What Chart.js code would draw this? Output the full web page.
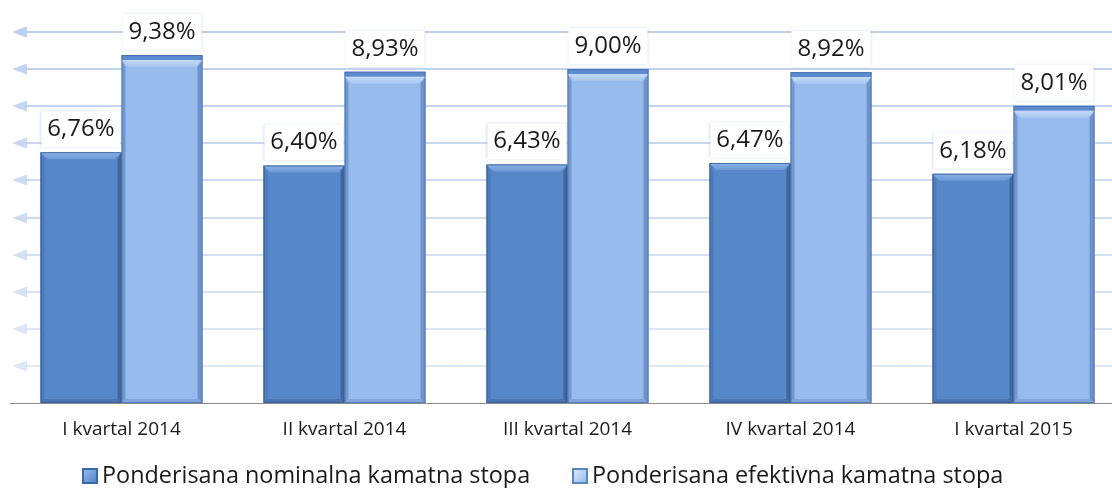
<!DOCTYPE html>
<html><head><meta charset="utf-8">
<script src="https://cdn.jsdelivr.net/npm/chart.js@4.4.1/dist/chart.umd.min.js"></script>
<style>html,body{margin:0;padding:0;background:#fff;overflow:hidden}#wrap{position:relative;width:1125px;height:488px}</style>
</head><body><div id="wrap"><canvas id="c"></canvas></div>
<script>
const categories = ['I kvartal 2014','II kvartal 2014','III kvartal 2014','IV kvartal 2014','I kvartal 2015'];
const nominalna = [6.76, 6.40, 6.43, 6.47, 6.18];
const efektivna = [9.38, 8.93, 9.00, 8.92, 8.01];
const seriesNames = ['Ponderisana nominalna kamatna stopa', 'Ponderisana efektivna kamatna stopa'];
const yMin = 0, yMax = 10, yStep = 1;

const FONT = "'Open Sans', 'Noto Sans', sans-serif";
const fmt = v => v.toFixed(2).replace('.', ',') + '%';

const gridArrows = {
  id: 'gridArrows',
  beforeDatasetsDraw(chart) {
    const {ctx, scales: {y}} = chart;
    ctx.save();
    y.ticks.forEach((t) => {
      if (t.value === yMin) return;
      const py = Math.round(y.getPixelForValue(t.value));
      const k = (t.value - yMin) / (yMax - yMin);
      const a = 0.3 + 0.4 * k;
      const col = `rgba(160,188,232,${a})`;
      ctx.strokeStyle = col; ctx.fillStyle = col;
      ctx.lineWidth = 2;
      ctx.beginPath(); ctx.moveTo(26, py); ctx.lineTo(chart.width, py); ctx.stroke();
      ctx.beginPath(); ctx.moveTo(12, py); ctx.lineTo(27, py - 5.5); ctx.lineTo(27, py + 5.5); ctx.closePath(); ctx.fill();
    });
    ctx.restore();
  }
};

function poly(ctx, pts, fill) {
  ctx.beginPath(); ctx.moveTo(pts[0][0], pts[0][1]);
  for (let i = 1; i < pts.length; i++) ctx.lineTo(pts[i][0], pts[i][1]);
  ctx.closePath(); ctx.fillStyle = fill; ctx.fill();
}

const bevel = {
  id: 'bevel',
  afterDatasetsDraw(chart) {
    const {ctx} = chart;
    ctx.save();
    chart.data.datasets.forEach((ds, di) => {
      const meta = chart.getDatasetMeta(di);
      meta.data.forEach((bar) => {
        const p = bar.getProps(['x', 'y', 'base', 'width'], true);
        const L = p.x - p.width / 2, R = p.x + p.width / 2, T = p.y, B = p.base;
        const b = 7;
        if (di === 0) {
          const g = ctx.createLinearGradient(0, T, 0, T + b);
          g.addColorStop(0, '#8db3e6'); g.addColorStop(1, '#6b98d6');
          poly(ctx, [[L, T], [R, T], [R - b, T + b], [L + b, T + b]], g);
          poly(ctx, [[L, T], [L + 4, T + b], [L + 4, B - 4], [L, B]], 'rgba(60,100,160,0.35)');
          poly(ctx, [[R, T], [R - 4, T + b], [R - 4, B - 4], [R, B]], 'rgba(40,70,120,0.5)');
          poly(ctx, [[L, B], [L + 4, B - 4], [R - 4, B - 4], [R, B]], 'rgba(50,85,140,0.35)');
          ctx.strokeStyle = 'rgba(55,90,145,0.8)'; ctx.lineWidth = 1;
          ctx.strokeRect(L + 0.5, T + 0.5, p.width - 1, B - T - 1);
        } else {
          ctx.fillStyle = '#5b8ad0';
          ctx.fillRect(L, T, p.width, 5);
          const g = ctx.createLinearGradient(0, T + 5, 0, T + 5 + b);
          g.addColorStop(0, '#c4daf7'); g.addColorStop(1, '#a6c5ef');
          poly(ctx, [[L, T + 5], [R, T + 5], [R - b, T + 5 + b], [L + b, T + 5 + b]], g);
          poly(ctx, [[L, T + 5], [L + 4, T + 5 + b], [L + 4, B - 4], [L, B]], 'rgba(70,110,170,0.45)');
          poly(ctx, [[R, T + 5], [R - 5, T + 5 + b], [R - 5, B - 4], [R, B]], 'rgba(60,100,165,0.45)');
          poly(ctx, [[L, B], [L + 4, B - 4], [R - 5, B - 4], [R, B]], 'rgba(90,130,190,0.35)');
          ctx.strokeStyle = 'rgba(70,105,160,0.7)'; ctx.lineWidth = 1;
          ctx.strokeRect(L + 0.5, T + 0.5, p.width - 1, B - T - 1);
        }
      });
    });
    ctx.restore();
  }
};

const labels = {
  id: 'valueLabels',
  afterDatasetsDraw(chart) {
    const {ctx} = chart;
    ctx.save();
    chart.data.datasets.forEach((ds, di) => {
      const meta = chart.getDatasetMeta(di);
      meta.data.forEach((bar, i) => {
        const p = bar.getProps(['x', 'y', 'width'], true);
        const L = p.x - p.width / 2;
        ctx.shadowColor = 'rgba(120,160,220,0.45)'; ctx.shadowBlur = 3;
        ctx.fillStyle = '#ffffff';
        ctx.fillRect(L + 1, p.y - 41, p.width - 2, 36);
        ctx.shadowBlur = 0; ctx.shadowColor = 'transparent';
        ctx.fillStyle = '#1a1a1a';
        ctx.font = `24px ${FONT}`;
        ctx.textAlign = 'center'; ctx.textBaseline = 'middle';
        ctx.fillText(fmt(ds.data[i]), p.x, p.y - 23);
      });
    });
    ctx.restore();
  }
};

const legendPlugin = {
  id: 'customLegend',
  afterDraw(chart) {
    const {ctx} = chart;
    ctx.save();
    const items = [
      {x: 82, text: seriesNames[0], c1: '#9cc0ee', c2: '#4a7fc4', bd: '#3a6aa8'},
      {x: 572, text: seriesNames[1], c1: '#e4efff', c2: '#8fb5ea', bd: '#5b86c4'}
    ];
    const cy = 476;
    items.forEach(it => {
      const s = 16;
      const g = ctx.createLinearGradient(it.x, cy - s / 2, it.x + s, cy + s / 2);
      g.addColorStop(0, it.c1); g.addColorStop(1, it.c2);
      ctx.fillStyle = it.bd; ctx.fillRect(it.x, cy - s / 2, s, s);
      ctx.fillStyle = g; ctx.fillRect(it.x + 2, cy - s / 2 + 2, s - 4, s - 4);
      ctx.fillStyle = '#1a1a1a';
      ctx.font = `23.4px ${FONT}`;
      ctx.textAlign = 'left'; ctx.textBaseline = 'middle';
      ctx.fillText(it.text, it.x + 20, cy);
    });
    ctx.restore();
  }
};

new Chart(document.getElementById('c'), {
  type: 'bar',
  data: {
    labels: categories,
    datasets: [
      {label: seriesNames[0], data: nominalna, backgroundColor: '#5687c8', borderWidth: 0},
      {label: seriesNames[1], data: efektivna, backgroundColor: '#97bbed', borderWidth: 0}
    ]
  },
  options: {
    responsive: true, maintainAspectRatio: false, animation: false,
    devicePixelRatio: 1,
    layout: {padding: {left: 10, right: 0, top: 32, bottom: 0}},
    categoryPercentage: 0.727, barPercentage: 1,
    plugins: {legend: {display: false}, tooltip: {enabled: false}},
    scales: {
      y: {display: false, min: yMin, max: yMax, ticks: {stepSize: yStep}},
      x: {
        grid: {display: false, drawTicks: false},
        border: {display: true, color: '#8c8c8c', width: 1},
        ticks: {color: '#1a1a1a', font: {family: FONT, size: 19}, padding: 15, maxRotation: 0},
        afterFit(s) { s.height = 85; }
      }
    }
  },
  plugins: [gridArrows, bevel, labels, legendPlugin]
});
</script>
</body></html>
